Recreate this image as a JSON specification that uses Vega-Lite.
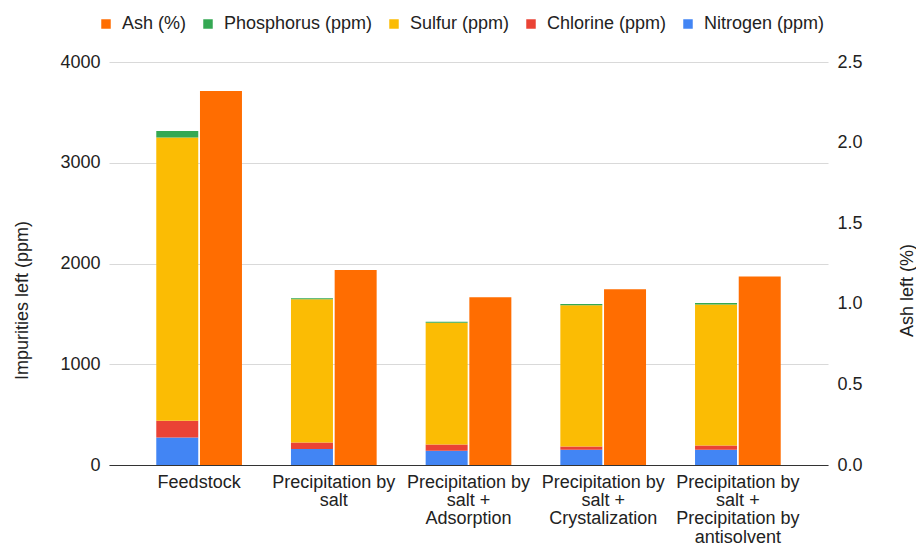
{
  "$schema": "https://vega.github.io/schema/vega-lite/v6.json",
  "width": 719,
  "height": 403,
  "autosize": {"type": "none"},
  "padding": {"left": 109, "top": 62, "right": 88, "bottom": 82},
  "background": "white",
  "config": {
    "font": "Liberation Sans",
    "view": {"stroke": null},
    "axis": {
      "labelColor": "#222222",
      "titleColor": "#222222",
      "labelFont": "Liberation Sans",
      "titleFont": "Liberation Sans",
      "labelFontSize": 18,
      "titleFontSize": 18,
      "titleFontWeight": "normal"
    },
    "legend": {
      "orient": "none",
      "legendX": -12,
      "legendY": -47,
      "direction": "horizontal",
      "symbolType": "square",
      "symbolSize": 90,
      "symbolStrokeWidth": 0,
      "labelFont": "Liberation Sans",
      "labelFontSize": 18,
      "labelColor": "#222222",
      "labelOffset": 7,
      "columnPadding": 12,
      "labelLimit": 0
    }
  },
  "data": {
    "values": [
      {"category": "Feedstock", "series": "Nitrogen (ppm)", "unit": "ppm", "value": 274},
      {"category": "Feedstock", "series": "Chlorine (ppm)", "unit": "ppm", "value": 165},
      {"category": "Feedstock", "series": "Sulfur (ppm)", "unit": "ppm", "value": 2812},
      {"category": "Feedstock", "series": "Phosphorus (ppm)", "unit": "ppm", "value": 65},
      {"category": "Feedstock", "series": "Ash (%)", "unit": "%", "value": 2.32},
      {"category": "Precipitation by salt", "series": "Nitrogen (ppm)", "unit": "ppm", "value": 159},
      {"category": "Precipitation by salt", "series": "Chlorine (ppm)", "unit": "ppm", "value": 65},
      {"category": "Precipitation by salt", "series": "Sulfur (ppm)", "unit": "ppm", "value": 1421},
      {"category": "Precipitation by salt", "series": "Phosphorus (ppm)", "unit": "ppm", "value": 10},
      {"category": "Precipitation by salt", "series": "Ash (%)", "unit": "%", "value": 1.21},
      {"category": "Precipitation by salt + Adsorption", "series": "Nitrogen (ppm)", "unit": "ppm", "value": 142},
      {"category": "Precipitation by salt + Adsorption", "series": "Chlorine (ppm)", "unit": "ppm", "value": 62},
      {"category": "Precipitation by salt + Adsorption", "series": "Sulfur (ppm)", "unit": "ppm", "value": 1209},
      {"category": "Precipitation by salt + Adsorption", "series": "Phosphorus (ppm)", "unit": "ppm", "value": 10},
      {"category": "Precipitation by salt + Adsorption", "series": "Ash (%)", "unit": "%", "value": 1.04},
      {"category": "Precipitation by salt + Crystalization", "series": "Nitrogen (ppm)", "unit": "ppm", "value": 152},
      {"category": "Precipitation by salt + Crystalization", "series": "Chlorine (ppm)", "unit": "ppm", "value": 32},
      {"category": "Precipitation by salt + Crystalization", "series": "Sulfur (ppm)", "unit": "ppm", "value": 1402},
      {"category": "Precipitation by salt + Crystalization", "series": "Phosphorus (ppm)", "unit": "ppm", "value": 13},
      {"category": "Precipitation by salt + Crystalization", "series": "Ash (%)", "unit": "%", "value": 1.09},
      {"category": "Precipitation by salt + Precipitation by antisolvent", "series": "Nitrogen (ppm)", "unit": "ppm", "value": 152},
      {"category": "Precipitation by salt + Precipitation by antisolvent", "series": "Chlorine (ppm)", "unit": "ppm", "value": 42},
      {"category": "Precipitation by salt + Precipitation by antisolvent", "series": "Sulfur (ppm)", "unit": "ppm", "value": 1398},
      {"category": "Precipitation by salt + Precipitation by antisolvent", "series": "Phosphorus (ppm)", "unit": "ppm", "value": 16},
      {"category": "Precipitation by salt + Precipitation by antisolvent", "series": "Ash (%)", "unit": "%", "value": 1.17}
    ]
  },
  "encoding": {
    "x": {
      "field": "category",
      "type": "nominal",
      "sort": null,
      "scale": {"paddingInner": 0.3638, "paddingOuter": 0.351},
      "axis": {
        "title": null,
        "labelAngle": 0,
        "ticks": false,
        "domainColor": "#333333",
        "labelPadding": 8,
        "labelLineHeight": 18.4,
        "labelOverlap": false,
        "labelLimit": 0,
        "labelExpr": "datum.value == 'Feedstock' ? 'Feedstock' : datum.value == 'Precipitation by salt' ? ['Precipitation by', 'salt'] : datum.value == 'Precipitation by salt + Adsorption' ? ['Precipitation by', 'salt +', 'Adsorption'] : datum.value == 'Precipitation by salt + Crystalization' ? ['Precipitation by', 'salt +', 'Crystalization'] : ['Precipitation by', 'salt +', 'Precipitation by', 'antisolvent']"
      }
    },
    "xOffset": {
      "field": "unit",
      "type": "nominal",
      "sort": ["ppm", "%"],
      "scale": {"domain": ["ppm", "%"], "paddingInner": 0.039, "paddingOuter": 0}
    }
  },
  "layer": [
    {
      "transform": [
        {"filter": "datum.unit == 'ppm'"},
        {"window": [{"op": "row_number", "as": "stackPos"}], "groupby": ["category"]}
      ],
      "mark": {"type": "bar"},
      "encoding": {
        "y": {
          "field": "value",
          "type": "quantitative",
          "stack": "zero",
          "scale": {"domain": [0, 4000], "nice": false},
          "axis": {
            "orient": "left",
            "values": [0, 1000, 2000, 3000, 4000],
            "format": "d",
            "grid": true,
            "gridColor": "#d9d9d9",
            "domain": false,
            "ticks": false,
            "labelPadding": 9,
            "title": "Impurities left (ppm)",
            "titleAngle": -90,
            "titleAlign": "center",
            "titleBaseline": "middle",
            "titleX": -87,
            "titleY": 238
          }
        },
        "order": {"field": "stackPos", "type": "quantitative", "sort": "ascending"},
        "color": {
          "field": "series",
          "type": "nominal",
          "scale": {
            "domain": ["Ash (%)", "Phosphorus (ppm)", "Sulfur (ppm)", "Chlorine (ppm)", "Nitrogen (ppm)"],
            "range": ["#FF6D01", "#34A853", "#FBBC04", "#EA4335", "#4285F4"]
          },
          "legend": {"title": null}
        }
      }
    },
    {
      "transform": [{"filter": "datum.unit == '%'"}],
      "mark": {"type": "bar"},
      "encoding": {
        "y": {
          "field": "value",
          "type": "quantitative",
          "scale": {"domain": [0, 2.5], "nice": false},
          "axis": {
            "orient": "right",
            "values": [0, 0.5, 1, 1.5, 2, 2.5],
            "format": ".1f",
            "grid": false,
            "domain": false,
            "ticks": false,
            "labelPadding": 9,
            "title": "Ash left (%)",
            "titleAngle": -90,
            "titleAlign": "center",
            "titleBaseline": "middle",
            "titleX": 79,
            "titleY": 228
          }
        },
        "color": {
          "field": "series",
          "type": "nominal",
          "scale": {
            "domain": ["Ash (%)", "Phosphorus (ppm)", "Sulfur (ppm)", "Chlorine (ppm)", "Nitrogen (ppm)"],
            "range": ["#FF6D01", "#34A853", "#FBBC04", "#EA4335", "#4285F4"]
          },
          "legend": {"title": null}
        }
      }
    }
  ],
  "resolve": {"scale": {"y": "independent"}}
}
